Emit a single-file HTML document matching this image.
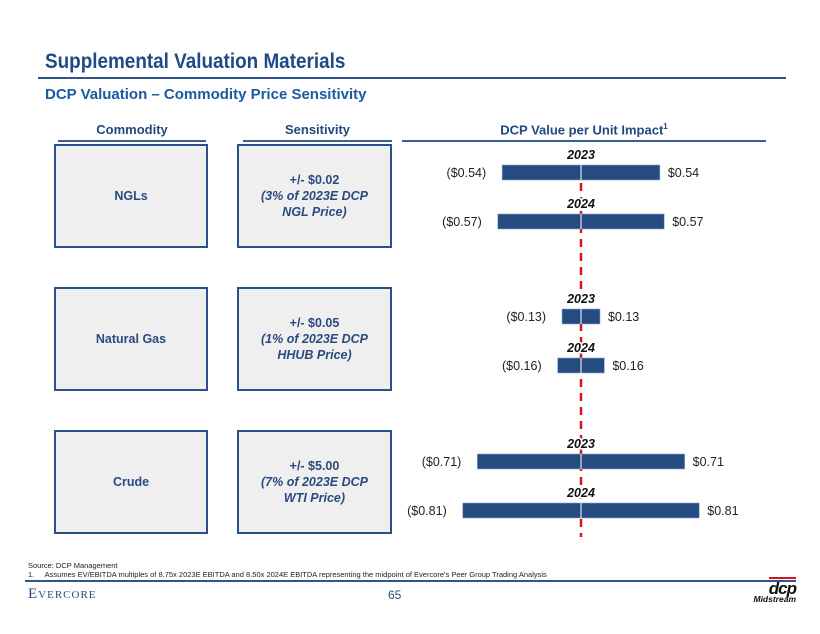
<!DOCTYPE html>
<html><head><meta charset="utf-8"><style>
body{margin:0;width:820px;height:634px;background:#fff;font-family:"Liberation Sans",sans-serif;position:relative;overflow:hidden}
.a{position:absolute}
.box{position:absolute;background:#efefef;border:2px solid #2b5089;box-sizing:border-box;display:flex;align-items:center;justify-content:center;text-align:center;color:#2a4a80;font-weight:bold;font-size:12.5px;line-height:16px}
.hd{position:absolute;top:122px;font-size:13px;font-weight:bold;color:#24477f;text-align:center;border-bottom:2px solid #3a5f98;padding-bottom:3px}
</style></head><body>
<div class="a" style="left:45px;top:50px;font-size:21px;font-weight:bold;color:#1f4a86;transform:scaleX(0.9);transform-origin:left">Supplemental Valuation Materials</div>
<div class="a" style="left:38px;top:77px;width:748px;height:2px;background:#2f5590"></div>
<div class="a" style="left:45px;top:86px;font-size:15px;font-weight:bold;color:#1b5aa0">DCP Valuation – Commodity Price Sensitivity</div>
<div class="hd" style="left:58px;width:148px">Commodity</div>
<div class="hd" style="left:243px;width:149px">Sensitivity</div>
<div class="hd" style="left:402px;width:364px">DCP Value per Unit Impact<sup style="font-size:8px">1</sup></div>

<div class="box" style="left:54px;top:144px;width:154px;height:104px">NGLs</div>
<div class="box" style="left:237px;top:144px;width:155px;height:104px"><div>+/- $0.02<br><i>(3% of 2023E DCP<br>NGL Price)</i></div></div>
<div class="box" style="left:54px;top:287px;width:154px;height:104px">Natural Gas</div>
<div class="box" style="left:237px;top:287px;width:155px;height:104px"><div>+/- $0.05<br><i>(1% of 2023E DCP<br>HHUB Price)</i></div></div>
<div class="box" style="left:54px;top:430px;width:154px;height:104px">Crude</div>
<div class="box" style="left:237px;top:430px;width:155px;height:104px"><div>+/- $5.00<br><i>(7% of 2023E DCP<br>WTI Price)</i></div></div>

<svg class="a" style="left:0;top:0" width="820" height="634" id="chart"></svg>

<div class="a" style="left:28px;top:561px;font-size:7.5px;color:#222">Source: DCP Management</div>
<div class="a" style="left:28px;top:570px;font-size:7.5px;color:#222">1.&nbsp;&nbsp;&nbsp;&nbsp;&nbsp;Assumes EV/EBITDA multiples of 8.75x 2023E EBITDA and 8.50x 2024E EBITDA representing the midpoint of Evercore's Peer Group Trading Analysis</div>
<div class="a" style="left:25px;top:580px;width:771px;height:2px;background:#2f5590"></div>
<div class="a" style="left:28px;top:586px;font-family:'Liberation Serif',serif;font-size:15px;color:#2a4a80;letter-spacing:1px">E<span style="font-size:11px">VERCORE</span></div>
<div class="a" style="left:388px;top:588px;font-size:12px;color:#2a4a80">65</div>
<div class="a" style="left:738px;top:583px;width:58px;text-align:right;line-height:11px">
<div style="font-size:17px;font-weight:bold;color:#111;font-style:italic;letter-spacing:-1px"><span style="border-top:2px solid #d9141b">dcp</span></div>
<div style="font-size:8.5px;font-weight:bold;font-style:italic;color:#111">Midstream</div></div>

<script>
const groups=["NGLs","Natural Gas","Crude"];
const years=["2023","2024"];
const v2023=[0.54,0.13,0.71];
const v2024=[0.57,0.16,0.81];
const svg=document.getElementById('chart');
const NS='http://www.w3.org/2000/svg';
const cx=581, scale=146;
function xs(v){return cx+v*scale;}
const groupTop=[165,309,454];
function mk(t,a){const e=document.createElementNS(NS,t);for(const k in a)e.setAttribute(k,a[k]);svg.appendChild(e);return e;}
const dash=mk('line',{x1:cx,x2:cx,y1:183,y2:537,stroke:'#d9141b','stroke-width':2.5,'stroke-dasharray':'8 6'});


groups.forEach((g,i)=>{
  [v2023,v2024].forEach((arr,j)=>{
    const v=arr[i];
    const y=groupTop[i]+j*49;
    const yl=mk('text',{x:cx,y:y-6,'text-anchor':'middle','font-size':12.5,'font-weight':'bold','font-style':'italic','font-family':'Liberation Sans, sans-serif',fill:'#111',stroke:'#fff','stroke-width':3,'paint-order':'stroke'});
    yl.textContent=years[j];
    
    
    const r=mk('rect',{x:xs(-v),y:y,width:xs(v)-xs(-v),height:15,fill:'#264b80',stroke:'#8aa3c8','stroke-width':0.6});
    
    
    mk('line',{x1:cx,x2:cx,y1:y,y2:y+15,stroke:'#fff','stroke-width':1});
    const l=mk('text',{x:xs(-v)-16,y:y+12,'text-anchor':'end','font-size':12.5,'font-family':'Liberation Sans, sans-serif',fill:'#222'});
    l.textContent='($'+v.toFixed(2)+')';
    
    
    const rl=mk('text',{x:xs(v)+8,y:y+12,'font-size':12.5,'font-family':'Liberation Sans, sans-serif',fill:'#222'});
    rl.textContent='$'+v.toFixed(2);
    
    
  });
});
</script>
</body></html>
